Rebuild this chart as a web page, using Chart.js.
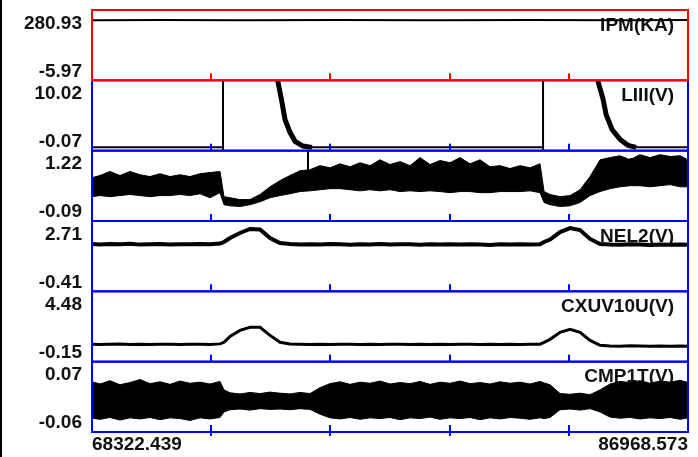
<!DOCTYPE html>
<html>
<head>
<meta charset="utf-8">
<script src="https://cdn.jsdelivr.net/npm/chart.js@4.4.0/dist/chart.umd.min.js"></script>
<style>
  html, body { margin: 0; padding: 0; background: #fff; }
</style>
</head>
<body>
<canvas id="graficoSinais" width="698" height="457"></canvas>
<script>
// tempo compartilhado (ms)
const tempo = [68322.439, 68573, 68885, 69198, 69511, 69824, 70137, 70450, 70763, 71076, 71388, 71701, 72014, 72327,
  72452, 72640, 72953, 73266, 73579, 73892, 74205, 74517, 74830, 75143, 75456, 75769, 76082, 76395, 76708, 77020,
  77333, 77646, 77959, 78272, 78585, 78898, 79211, 79524, 79837, 80149, 80462, 80775, 81088, 81401, 81714, 82027,
  82340, 82465, 82653, 82966, 83279, 83591, 83904, 84217, 84530, 84843, 85156, 85469, 85782, 86095, 86408, 86721,
  86968.573];

const canais = ["IPM(KA)", "LIII(V)", "HA1(V)", "NEL2(V)", "CXUV10U(V)", "CMP1T(V)"];
const maximos = [280.93, 10.02, 1.22, 2.71, 4.48, 0.07];
const minimos = [-5.97, -0.07, -0.09, -0.41, -0.15, -0.06];

const ipmTempo = [68322.439, 70500, 73000, 76000, 79000, 82000, 85000, 86968.573];
const ipm = [301, 301.5, 301, 301.5, 301, 301.5, 301, 301.5];

const liiiTempo = [68322.439, 70000, 72421, 72421, 72421, 72440, 74079, 74142, 74267, 74361, 74517, 74674, 74924,
  75206, 78000, 82434, 82434, 82434, 82450, 84092, 84155, 84311, 84405, 84593, 84843, 85093, 85344, 86968.573];
const liii = [-1.27, -1.27, -1.27, 14, -3, null, 14, 12.5, 8.2, 4.6, 1.9, 0.0, -1.0,
  -1.27, -1.27, -1.27, 14, -3, null, 14, 12.6, 8.9, 5.7, 2.5, 0.4, -0.85, -1.27, -1.27];

const haSup = [0.85, 0.91, 1.02, 0.91, 1.02, 0.93, 0.88, 0.96, 0.88, 0.93, 0.88, 0.96, 0.99, 1.02,
  0.33, 0.30, 0.25, 0.25, 0.39, 0.60, 0.77, 0.91, 1.04, 1.07, 1.18, 1.12, 1.23, 1.15, 1.26, 1.18,
  1.34, 1.21, 1.29, 1.18, 1.40, 1.21, 1.32, 1.26, 1.40, 1.23, 1.34, 1.15, 1.18, 1.10, 1.18, 1.12,
  1.23, 0.47, 0.39, 0.33, 0.36, 0.52, 0.88, 1.34, 1.40, 1.45, 1.34, 1.48, 1.40, 1.48, 1.43, 1.45, 1.34];
const haInf = [0.33, 0.36, 0.33, 0.36, 0.39, 0.36, 0.33, 0.36, 0.36, 0.39, 0.36, 0.41, 0.30, 0.44,
  0.11, 0.08, 0.06, 0.11, 0.19, 0.30, 0.36, 0.41, 0.47, 0.49, 0.52, 0.55, 0.55, 0.52, 0.49, 0.52,
  0.49, 0.52, 0.47, 0.49, 0.47, 0.49, 0.47, 0.44, 0.47, 0.47, 0.44, 0.44, 0.47, 0.47, 0.47, 0.49,
  0.44, 0.17, 0.11, 0.06, 0.08, 0.17, 0.36, 0.47, 0.55, 0.60, 0.63, 0.63, 0.60, 0.63, 0.66, 0.60, 0.60];
const haPicoTempo = [75080, 75080];
const haPico = [1.0, 1.7];

const nel2 = [2.09, 2.06, 2.09, 2.07, 2.10, 2.05, 2.08, 2.09, 2.06, 2.08, 2.07, 2.09, 2.08, 2.12,
  2.22, 2.48, 2.81, 3.07, 3.04, 2.48, 2.16, 2.09, 2.06, 2.08, 2.05, 2.09, 2.07, 2.04, 2.08, 2.06,
  2.09, 2.05, 2.07, 2.08, 2.04, 2.07, 2.06, 2.08, 2.05, 2.07, 2.06, 2.02, 2.07, 2.05, 2.08, 2.06,
  2.07, 2.22, 2.38, 2.87, 3.13, 3.00, 2.42, 2.09, 2.05, 2.04, 2.07, 2.05, 2.03, 2.06, 2.04, 2.05, 2.04];

const cxuv = [0.66, 0.63, 0.66, 0.68, 0.65, 0.66, 0.64, 0.67, 0.66, 0.65, 0.67, 0.66, 0.65, 0.70,
  0.85, 1.43, 2.01, 2.30, 2.30, 1.52, 0.85, 0.68, 0.66, 0.64, 0.66, 0.65, 0.67, 0.66, 0.64, 0.66,
  0.65, 0.67, 0.66, 0.64, 0.66, 0.65, 0.66, 0.64, 0.66, 0.67, 0.65, 0.66, 0.64, 0.66, 0.65, 0.66,
  0.67, 0.85, 1.14, 1.82, 2.11, 1.82, 1.04, 0.56, 0.50, 0.48, 0.51, 0.49, 0.47, 0.50, 0.48, 0.49, 0.48];

const cmpSup = [0.052, 0.046, 0.055, 0.044, 0.050, 0.058, 0.047, 0.052, 0.045, 0.054, 0.048, 0.051, 0.046, 0.053,
  0.030, 0.022, 0.019, 0.023, 0.020, 0.024, 0.021, 0.019, 0.023, 0.020, 0.036, 0.047, 0.052, 0.045, 0.051, 0.048,
  0.054, 0.046, 0.050, 0.047, 0.053, 0.045, 0.051, 0.048, 0.054, 0.047, 0.050, 0.046, 0.052, 0.048, 0.051, 0.046,
  0.053, 0.049, 0.044, 0.020, 0.018, 0.021, 0.017, 0.030, 0.046, 0.053, 0.050, 0.055, 0.048, 0.054, 0.051, 0.056, 0.050];
const cmpInf = [-0.047, -0.050, -0.045, -0.052, -0.046, -0.049, -0.045, -0.051, -0.046, -0.048, -0.053, -0.046, -0.049, -0.045,
  -0.030, -0.024, -0.022, -0.025, -0.021, -0.023, -0.022, -0.024, -0.021, -0.023, -0.036, -0.046, -0.049, -0.045, -0.050, -0.046,
  -0.048, -0.045, -0.051, -0.046, -0.048, -0.044, -0.050, -0.046, -0.048, -0.045, -0.051, -0.046, -0.049, -0.045, -0.047, -0.050,
  -0.046, -0.048, -0.045, -0.024, -0.022, -0.025, -0.021, -0.030, -0.044, -0.047, -0.045, -0.049, -0.046, -0.048, -0.045, -0.050, -0.046];

const fonte = { family: '"Liberation Sans", Arial, sans-serif', size: 19, weight: 'bold' };
const pontos = (xs, ys) => xs.map((x, i) => ({ x: x, y: ys[i] }));

const escalas = {
  x: {
    type: "linear",
    min: tempo[0],
    max: tempo[tempo.length - 1],
    grid: { display: false, drawTicks: false },
    border: { display: false },
    afterBuildTicks: s => { s.ticks = [{ value: s.min }, { value: s.max }]; },
    afterFit: s => { s.height = 25; s.paddingLeft = 0; s.paddingRight = 0; },
    ticks: { autoSkip: false, align: "inner", maxRotation: 0, padding: 1, font: fonte, callback: v => v.toFixed(3) }
  }
};

canais.forEach((c, i) => {
  const faixa = (maximos[i] - minimos[i]) / 0.68;
  escalas["y" + (i + 1)] = {
    type: "linear",
    position: "left",
    stack: "sinais",
    stackWeight: 1,
    weight: canais.length - i,
    min: minimos[i] - 0.128 * faixa,
    max: maximos[i] + 0.192 * faixa,
    grid: { display: false, drawTicks: false },
    border: { display: false },
    afterBuildTicks: s => { s.ticks = [{ value: minimos[i] }, { value: maximos[i] }]; },
    afterFit: s => { s.width = 92; s.paddingTop = 0; s.paddingBottom = 0; },
    ticks: { autoSkip: false, padding: 10, font: fonte, callback: v => v.toFixed(2) }
  };
});

// molduras, nomes dos canais e marcas de divisao
const molduras = {
  id: "molduras",
  beforeDatasetsDraw(chart) {
    const ctx = chart.ctx;
    ctx.save();
    ctx.font = "bold 19px \"Liberation Sans\", Arial, sans-serif";
    ctx.fillStyle = "#111";
    ctx.textAlign = "right";
    ctx.textBaseline = "alphabetic";
    canais.forEach((c, i) => {
      const s = chart.scales["y" + (i + 1)];
      ctx.fillText(c, chart.chartArea.right - 14, s.top + 20.5);
    });
    ctx.restore();
  },
  afterDraw(chart) {
    const ctx = chart.ctx, a = chart.chartArea, x = chart.scales.x;
    ctx.save();
    ctx.lineWidth = 2;
    for (let i = canais.length - 1; i >= 0; i--) {
      const s = chart.scales["y" + (i + 1)];
      const cor = i === 0 ? "#ff0000" : "#0000ff";
      ctx.strokeStyle = cor;
      ctx.strokeRect(a.left, s.top, a.right - a.left, s.bottom - s.top);
      ctx.fillStyle = cor;
      for (let k = 1; k < 5; k++) {
        const px = x.getPixelForValue(x.min + (x.max - x.min) * k / 5);
        ctx.fillRect(Math.round(px) - 1, s.bottom - 7, 2, i === canais.length - 1 ? 11 : 7);
      }
    }
    ctx.fillStyle = "#000";
    ctx.fillRect(0, 0, 2, chart.height);
    ctx.restore();
  }
};

Chart.defaults.color = "#111";

new Chart(document.querySelector("#graficoSinais"), {
  type: "line",
  data: {
    labels: tempo,
    datasets: [
      { data: pontos(ipmTempo, ipm), yAxisID: "y1", borderWidth: 2 },
      {
        data: pontos(liiiTempo, liii), yAxisID: "y2", borderWidth: 2, spanGaps: false,
        segment: { borderWidth: c => (c.p0.parsed.x !== c.p1.parsed.x && c.p0.parsed.y > -1.2) ? 5 : 2 }
      },
      { data: haSup, yAxisID: "y3", fill: "+1", backgroundColor: "#000", borderWidth: 1 },
      { data: haInf, yAxisID: "y3", borderWidth: 1 },
      { data: pontos(haPicoTempo, haPico), yAxisID: "y3", borderWidth: 2 },
      { data: nel2, yAxisID: "y4", borderWidth: 4 },
      { data: cxuv, yAxisID: "y5", borderWidth: 3 },
      { data: cmpSup, yAxisID: "y6", fill: "+1", backgroundColor: "#000", borderWidth: 1 },
      { data: cmpInf, yAxisID: "y6", borderWidth: 1 }
    ]
  },
  options: {
    responsive: false,
    animation: false,
    layout: { padding: { top: 10, right: 10, left: 0, bottom: 0 } },
    elements: {
      line: { borderColor: "#000", tension: 0, fill: false },
      point: { radius: 0, hoverRadius: 0 }
    },
    plugins: { legend: { display: false }, tooltip: { enabled: false } },
    scales: escalas
  },
  plugins: [molduras]
});
</script>
</body>
</html>
